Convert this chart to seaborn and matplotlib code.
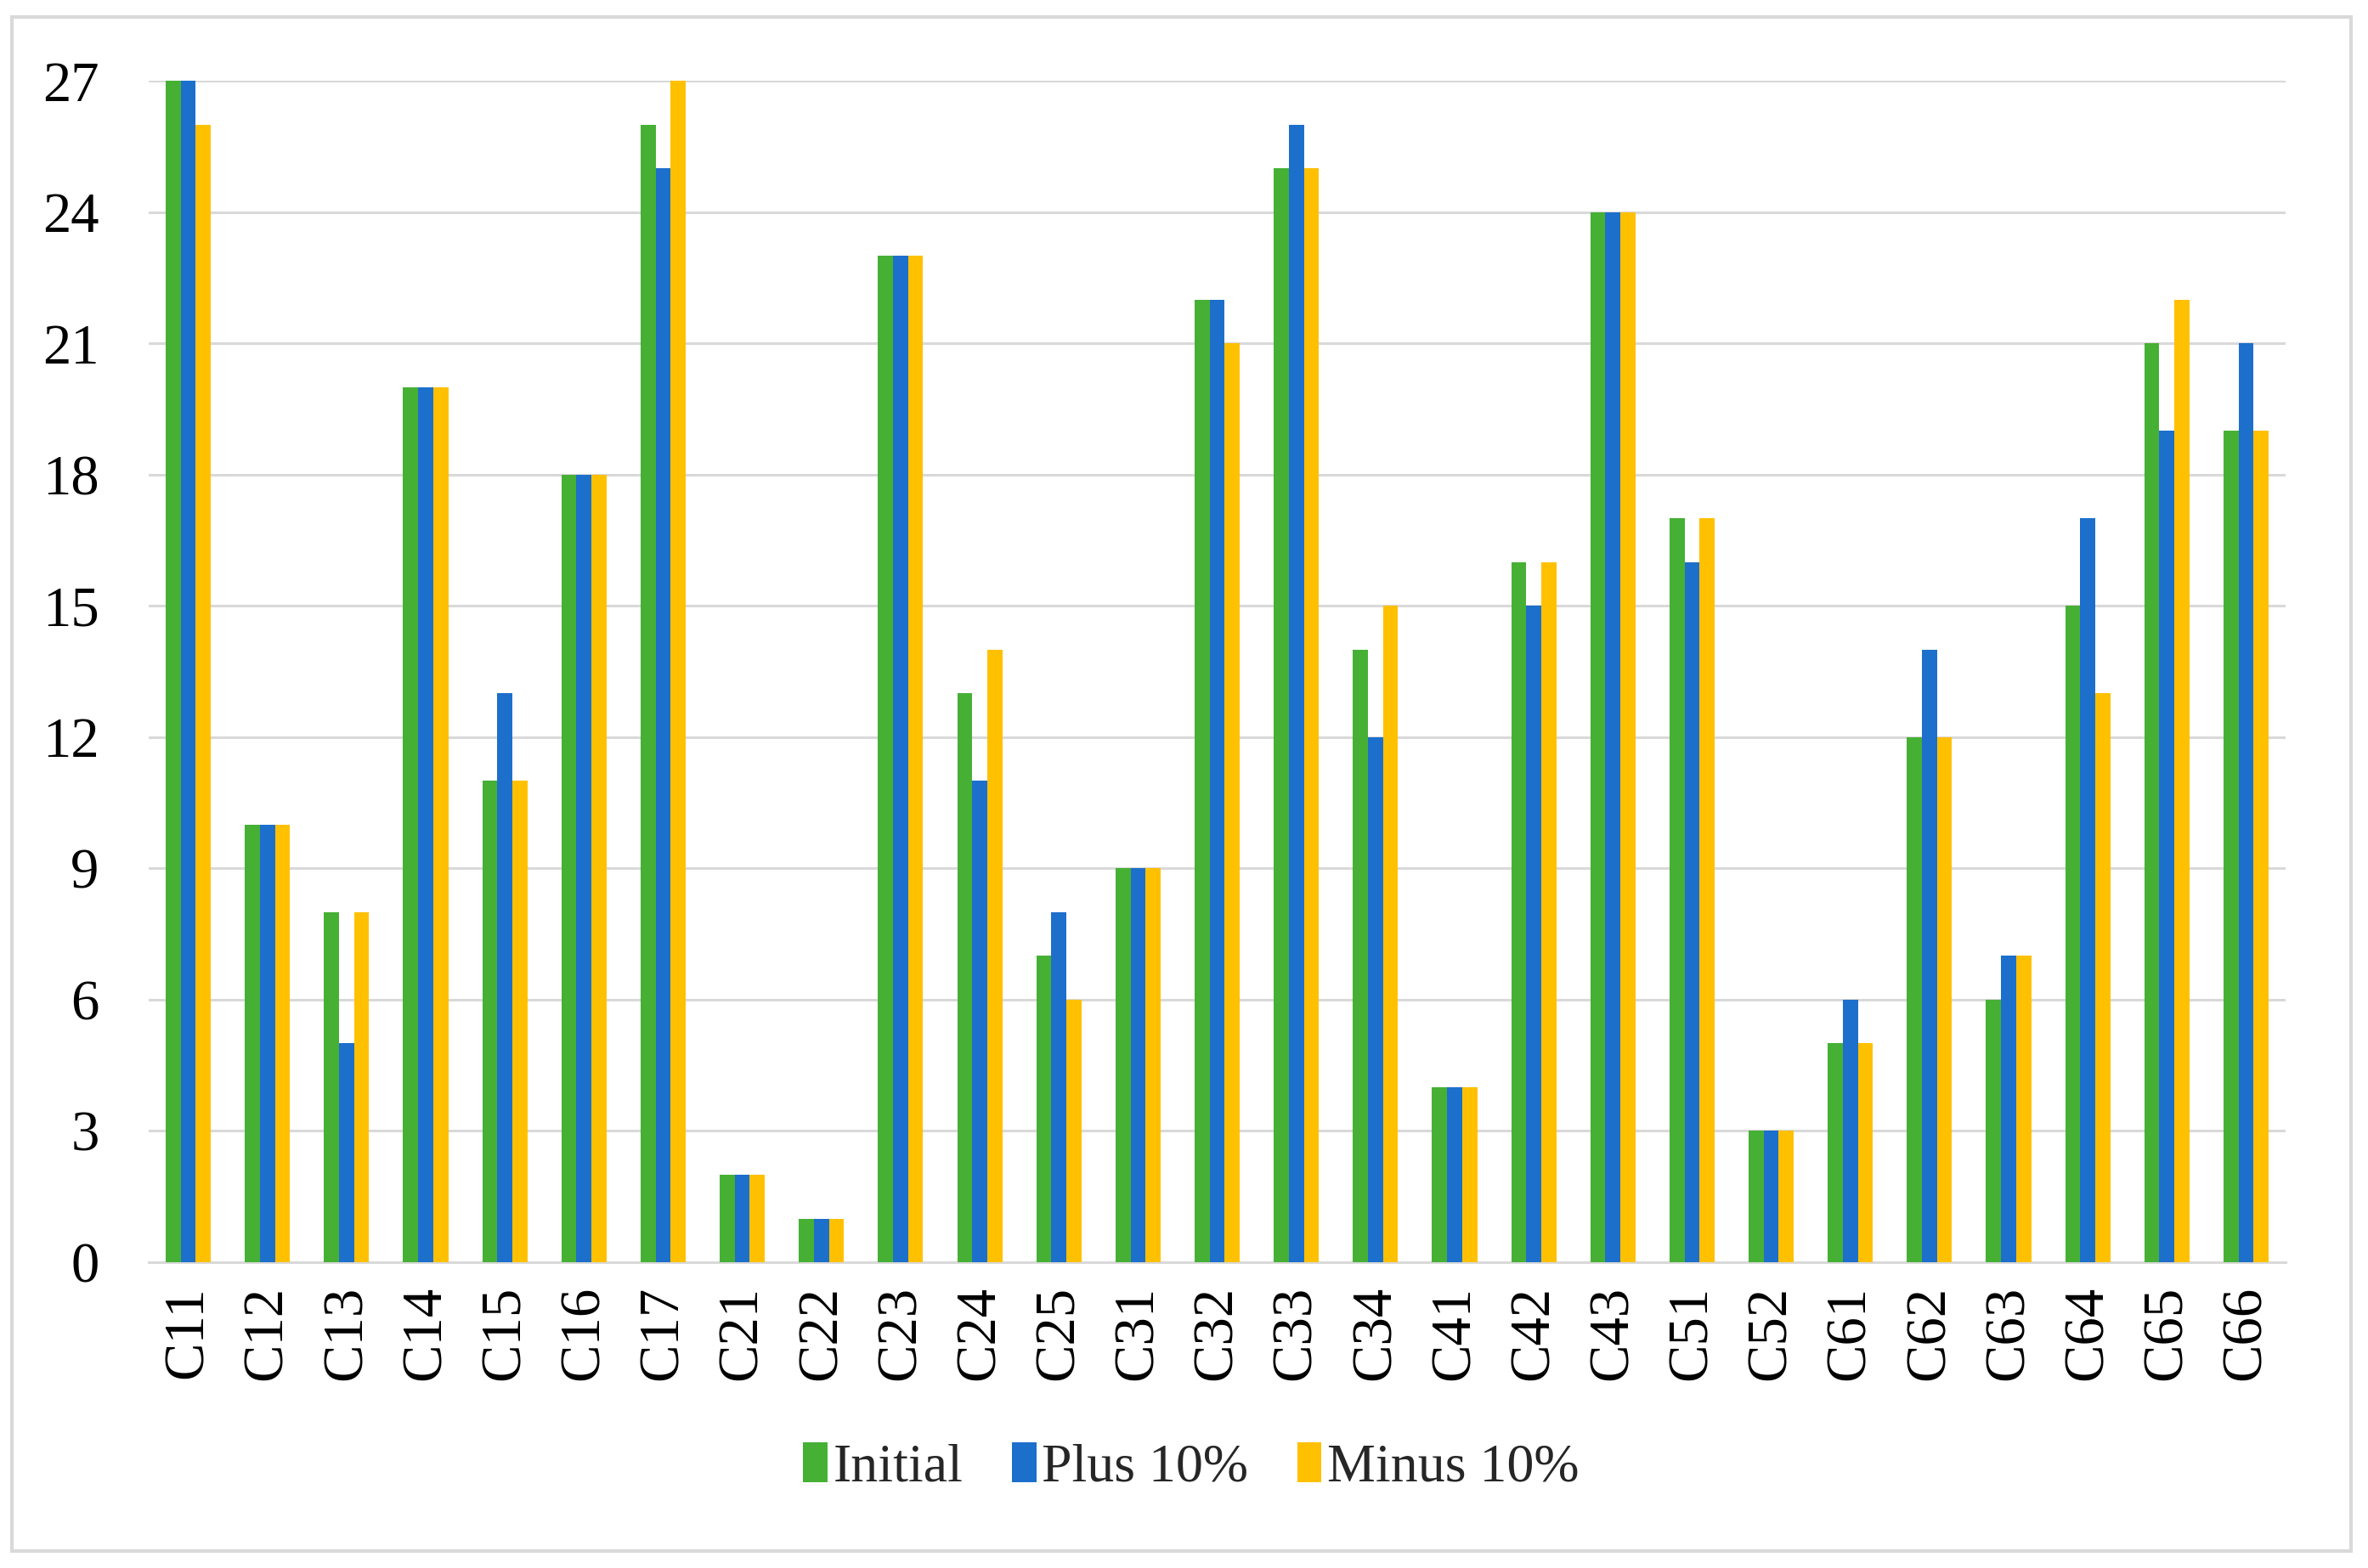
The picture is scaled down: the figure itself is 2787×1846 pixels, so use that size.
#!/usr/bin/env python3

import pandas as pd
import matplotlib.pyplot as plt
from matplotlib.patches import Rectangle
import seaborn as sns

CRITERIA = ["C11", "C12", "C13", "C14", "C15", "C16", "C17",
            "C21", "C22", "C23", "C24", "C25",
            "C31", "C32", "C33", "C34",
            "C41", "C42", "C43",
            "C51", "C52",
            "C61", "C62", "C63", "C64", "C65", "C66"]
INITIAL = [27, 10, 8, 20, 11, 18, 26, 2, 1, 23, 13, 7, 9, 22, 25, 14, 4, 16, 24, 17, 3, 5, 12, 6, 15, 21, 19]
PLUS_10 = [27, 10, 5, 20, 13, 18, 25, 2, 1, 23, 11, 8, 9, 22, 26, 12, 4, 15, 24, 16, 3, 6, 14, 7, 17, 19, 21]
MINUS_10 = [26, 10, 8, 20, 11, 18, 27, 2, 1, 23, 14, 6, 9, 21, 25, 15, 4, 16, 24, 17, 3, 5, 12, 7, 13, 22, 19]
SERIES = ["Initial", "Plus 10%", "Minus 10%"]
Y_TICKS = [0, 3, 6, 9, 12, 15, 18, 21, 24, 27]

COLORS = ["#46B035", "#1D6FCC", "#FFC000"]
GRID = "#D9D9D9"


def build_frame() -> pd.DataFrame:
    parts = []
    for name, vals in zip(SERIES, [INITIAL, PLUS_10, MINUS_10]):
        parts.append(pd.DataFrame({"criterion": CRITERIA, "rank": vals, "series": name}))
    return pd.concat(parts, ignore_index=True)


def main():
    sns.set_style("white")
    plt.rcParams["font.family"] = ["Liberation Serif", "DejaVu Serif"]

    df = build_frame()

    fig = plt.figure(figsize=(13.935, 9.23), dpi=200)
    ax = fig.add_axes([0.0628, 0.195, 0.9024, 0.7535])

    sns.barplot(data=df, x="criterion", y="rank", hue="series",
                order=CRITERIA, hue_order=SERIES, palette=COLORS,
                width=0.57, saturation=1, linewidth=0, ax=ax, zorder=3)

    ax.set_ylim(0, 27)
    ax.set_xlim(-0.5, len(CRITERIA) - 0.5)
    ax.set_yticks(Y_TICKS)
    ax.grid(axis="y", color=GRID, linewidth=1.1, zorder=0)
    ax.set_axisbelow(True)
    for side in ["left", "right", "top"]:
        ax.spines[side].set_visible(False)
    ax.spines["bottom"].set_color(GRID)
    ax.spines["bottom"].set_linewidth(1.1)
    ax.tick_params(axis="both", length=0, labelsize=24, colors="black")
    ax.tick_params(axis="y", pad=21)
    ax.tick_params(axis="x", pad=10)
    plt.setp(ax.get_xticklabels(), rotation=90)
    ax.set_xlabel("")
    ax.set_ylabel("")

    ax.legend_.remove()
    handles, labels = ax.get_legend_handles_labels()
    fig.legend(handles, labels, loc="center", bbox_to_anchor=(0.503, 0.064),
               ncol=3, frameon=False, fontsize=23, handlelength=0.45,
               handleheight=0.75, handletextpad=0.1, columnspacing=0.9)

    fig.patches.append(Rectangle((0.005, 0.011), 0.988, 0.978, transform=fig.transFigure,
                                 fill=False, edgecolor=GRID, linewidth=1.5))

    fig.savefig("out.png", dpi=200)
    plt.close(fig)


if __name__ == "__main__":
    main()
